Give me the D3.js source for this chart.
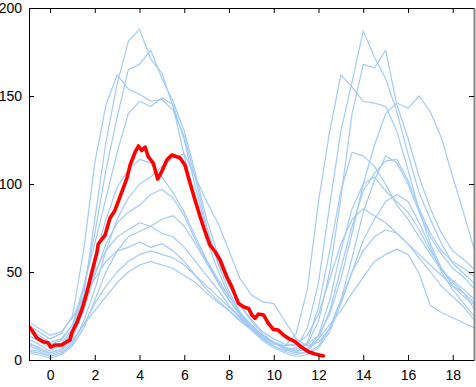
<!DOCTYPE html>
<html>
<head>
<meta charset="utf-8">
<script src="https://cdn.jsdelivr.net/npm/d3@7"></script>
<style>
  body { margin: 0; background: white; }
  svg { display: block; }
  .tick text { font-family: "Liberation Sans", Arial, sans-serif; font-size: 14px; fill: #000; }
</style>
</head>
<body>
<svg id="chart"></svg>
<script>
// seasonal curves, blue = other seasons, red = current one
var W = 476, H = 387;
var margin = {top: 8, right: 2, bottom: 27, left: 29};

var xTicks = [0, 2, 4, 6, 8, 10, 12, 14, 16, 18];
var yTicks = [0, 50, 100, 150, 200];

var t = [-1, -0.5, 0, 0.5, 1, 1.5, 2, 2.5, 3, 3.5, 4, 4.5, 5, 5.5, 6, 6.5, 7, 7.5, 8, 8.5,
         9, 9.5, 10, 10.5, 11, 11.5, 12, 12.5, 13, 13.5, 14, 14.5, 15, 15.5, 16, 16.5, 17, 17.5, 18, 18.5, 19];

var seriesA = [10, 7, 4, 6, 14, 36, 80, 124, 157, 181, 188, 171, 163, 144, 116, 90, 68, 51, 37, 26,
               18, 12, 8, 5, 7, 18, 44, 88, 130, 158, 187, 172, 160, 141, 117, 95, 80, 66, 55, 49, 43];
var seriesB = [14, 11, 7, 9, 18, 40, 72, 108, 138, 165, 168, 176, 160, 147, 130, 106, 80, 60, 44, 31,
               22, 15, 10, 7, 6, 9, 22, 50, 92, 140, 168, 166, 176, 145, 126, 104, 86, 72, 62, 57, 51];
var seriesC = [20, 16, 12, 15, 25, 62, 112, 145, 162, 154, 151, 147, 148, 142, 127, 103, 76, 55, 39, 27,
               19, 13, 9, 8, 15, 40, 90, 130, 162, 155, 147, 146, 144, 130, 108, 85, 66, 52, 42, 36, 31];
var seriesD = [16, 13, 9, 11, 20, 42, 66, 92, 118, 140, 147, 144, 149, 145, 125, 98, 74, 56, 42, 31,
               23, 16, 12, 9, 8, 9, 14, 26, 46, 72, 100, 122, 140, 146, 143, 150, 141, 126, 104, 83, 61];
var seriesE = [6, 5, 2, 4, 9, 22, 40, 62, 80, 92, 100, 104, 110, 115, 117, 104, 90, 78, 62, 46,
               37, 33, 32, 22, 12, 8, 10, 18, 34, 58, 84, 102, 116, 112, 100, 84, 70, 60, 52, 47, 40];
var seriesF = [12, 9, 5, 8, 16, 35, 58, 80, 98, 108, 114, 112, 104, 95, 84, 70, 57, 46, 36, 27,
               20, 14, 10, 6, 4, 10, 30, 62, 96, 118, 116, 110, 100, 88, 80, 70, 60, 51, 45, 40, 34];
var seriesG = [8, 6, 3, 5, 12, 28, 48, 66, 78, 84, 88, 94, 97, 92, 82, 68, 56, 45, 34, 25,
               18, 12, 8, 5, 3, 5, 12, 28, 52, 76, 96, 106, 113, 114, 102, 86, 72, 62, 56, 52, 47];
var seriesH = [18, 14, 10, 12, 20, 34, 50, 62, 70, 74, 78, 76, 80, 82, 76, 66, 55, 44, 34, 26,
               19, 14, 10, 7, 5, 6, 14, 34, 62, 86, 100, 104, 96, 90, 84, 74, 62, 52, 44, 38, 28];
var seriesI = [4, 3, 1, 3, 8, 18, 34, 50, 62, 70, 73, 76, 72, 70, 64, 56, 48, 40, 31, 24,
               17, 11, 7, 4, 2, 3, 7, 16, 32, 50, 68, 80, 90, 94, 90, 78, 64, 50, 40, 32, 24];
var seriesJ = [22, 18, 14, 16, 24, 36, 46, 56, 62, 64, 67, 64, 66, 62, 56, 48, 40, 34, 28, 22,
               17, 13, 10, 8, 9, 14, 26, 46, 66, 80, 86, 82, 78, 72, 66, 58, 50, 42, 36, 30, 22];
var seriesK = [5, 4, 2, 4, 10, 20, 32, 42, 50, 56, 60, 62, 60, 58, 54, 48, 42, 36, 30, 24,
               19, 14, 10, 6, 4, 4, 8, 18, 34, 50, 62, 70, 74, 72, 66, 60, 54, 48, 42, 38, 32];
var seriesL = [9, 7, 4, 6, 11, 20, 28, 36, 44, 50, 54, 56, 54, 52, 48, 44, 38, 33, 28, 23,
               18, 14, 10, 7, 5, 6, 12, 20, 28, 38, 47, 56, 60, 63, 60, 49, 31, 27, 24, 21, 18];

var blueSeries = [seriesA, seriesB, seriesC, seriesD, seriesE, seriesF,
                  seriesG, seriesH, seriesI, seriesJ, seriesK, seriesL];

var redX = [-0.94, -0.76, -0.59, -0.31, -0.09, 0.03, 0.22, 0.52, 0.75, 0.89, 0.97, 1.19, 1.42, 1.64, 1.86,
            2.09, 2.16, 2.46, 2.68, 2.9, 3.13, 3.43, 3.58, 3.8, 3.95, 4.1, 4.25, 4.39, 4.62, 4.81,
            4.99, 5.22, 5.44, 5.66, 5.81, 6.03, 6.26, 6.48, 6.71, 6.93, 7.15, 7.38, 7.6, 7.75, 7.9,
            8.12, 8.42, 8.64, 8.87, 9.02, 9.16, 9.31, 9.54, 9.76, 9.98, 10.2, 10.43, 10.65, 10.95, 11.25,
            11.55, 11.85, 12.22];
var redY = [19, 16, 12.5, 10.4, 9.8, 7.3, 8.5, 8.5, 10.4, 11.4, 15.3, 21, 28.4, 38, 49.4,
            60.8, 66, 71, 80.7, 85, 92.8, 103, 110.8, 118, 121.6, 119, 121, 115.5, 111.7, 102.8,
            107, 113.6, 116.5, 115.5, 114.8, 110.8, 100.4, 90.9, 81.4, 72.9, 65.3, 61.5, 56.8, 52, 47.3,
            41.7, 32.2, 30.3, 29.3, 25.6, 23.7, 26.1, 25.6, 20.8, 17.4, 17, 14.2, 12.3, 10.4, 7.2,
            4.7, 3.4, 2.3];

var svg = d3.select("#chart")
  .attr("width", W)
  .attr("height", H);

svg.append("rect")
  .attr("width", "100%")
  .attr("height", "100%")
  .attr("fill", "white");

var x = d3.scaleLinear()
  .domain([-0.94, 18.95])
  .range([margin.left, W - margin.right]);

var y = d3.scaleLinear()
  .domain([0, 200])
  .range([H - margin.bottom, margin.top]);

svg.append("clipPath")
  .attr("id", "plot-clip")
  .append("rect")
  .attr("x", margin.left)
  .attr("y", margin.top)
  .attr("width", W - margin.right - margin.left)
  .attr("height", H - margin.bottom - margin.top);

var line = d3.line()
  .x(d => x(d[0]))
  .y(d => y(d[1]));

var plot = svg.append("g").attr("clip-path", "url(#plot-clip)");

plot.selectAll(".blue")
  .data(blueSeries)
  .enter()
  .append("path")
  .attr("class", "blue")
  .attr("fill", "none")
  .attr("stroke", "#a2cbf6")
  .attr("stroke-width", 1.2)
  .attr("stroke-linejoin", "round")
  .attr("d", s => line(s.map((v, i) => [t[i], v])));

plot.append("path")
  .datum(redX.map((v, i) => [v, redY[i]]))
  .attr("fill", "none")
  .attr("stroke", "#ff0000")
  .attr("stroke-width", 3.6)
  .attr("stroke-linejoin", "round")
  .attr("stroke-linecap", "round")
  .attr("d", line);

// axes, ticks pointing inward on all four sides
svg.append("g")
  .attr("transform", `translate(0,${H - margin.bottom})`)
  .call(d3.axisBottom(x).tickValues(xTicks).tickSize(-5).tickSizeOuter(0).tickPadding(10));

svg.append("g")
  .attr("transform", `translate(0,${margin.top})`)
  .call(d3.axisTop(x).tickValues(xTicks).tickSize(-5).tickSizeOuter(0).tickFormat(""));

svg.append("g")
  .attr("transform", `translate(${margin.left},0)`)
  .call(d3.axisLeft(y).tickValues(yTicks).tickSize(-5).tickSizeOuter(0).tickPadding(7));

svg.append("g")
  .attr("transform", `translate(${W - margin.right},0)`)
  .call(d3.axisRight(y).tickValues(yTicks).tickSize(-5).tickSizeOuter(0).tickFormat(""))
  .call(g => g.select(".domain").attr("stroke", "#888").attr("stroke-width", 2));
</script>
</body>
</html>
